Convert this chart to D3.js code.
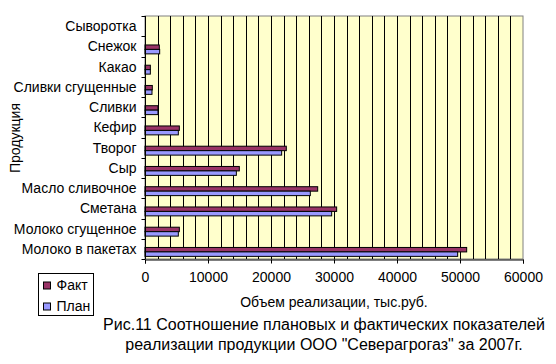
<!DOCTYPE html>
<html>
<head>
<meta charset="utf-8">
<script src="https://cdn.jsdelivr.net/npm/d3@7"></script>
<style>
  body { margin: 0; background: #fff; }
  svg text { font-family: "Liberation Sans", Arial, sans-serif; fill: #000; }
</style>
</head>
<body>
<div id="chart"></div>
<script>
// categories from top to bottom
var categories = ["Сыворотка", "Снежок", "Какао", "Сливки сгущенные", "Сливки", "Кефир",
    "Творог", "Сыр", "Масло сливочное", "Сметана", "Молоко сгущенное", "Молоко в пакетах"];
var fact = [0, 2270, 850, 1160, 2060, 5450, 22430, 14970, 27410, 30420, 5450, 51060];
var plan = [0, 2330, 850, 1110, 2060, 5290, 21690, 14500, 26240, 29630, 5290, 49630];
var xTicks = [0, 10000, 20000, 30000, 40000, 50000, 60000];
var seriesNames = ["Факт", "План"];
var seriesColors = ["#993366", "#9999FF"];

var width = 556, height = 364;
var margin = {left: 145, right: 33, top: 16, bottom: 105};

var svg = d3.select("#chart").append("svg")
    .attr("width", width)
    .attr("height", height);

var x = d3.scaleLinear().domain([0, 60000]).range([margin.left, width - margin.right]);
var y = d3.scaleBand().domain(categories).range([margin.top, height - margin.bottom]);

// plot area
svg.append("rect")
    .attr("x", x(0)).attr("y", y.range()[0])
    .attr("width", x(60000) - x(0)).attr("height", y.range()[1] - y.range()[0])
    .attr("fill", "#FFFFCC")
    .attr("stroke", "#808080");

// gridlines every 2000
svg.append("g")
    .selectAll("line")
    .data(d3.range(2000, 60000, 2000))
    .enter().append("line")
    .attr("x1", function (d) { return Math.round(x(d)) + 0.5; })
    .attr("x2", function (d) { return Math.round(x(d)) + 0.5; })
    .attr("y1", y.range()[0])
    .attr("y2", y.range()[1])
    .attr("stroke", "#000");

// bars (sit a bit low in each band, like the original)
var bh = y.bandwidth() * 0.22;
var off = y.bandwidth() * 0.43;
var rows = svg.append("g").selectAll("g")
    .data(categories)
    .enter().append("g");

rows.append("rect")
    .attr("x", x(0))
    .attr("y", function (d) { return y(d) + off; })
    .attr("width", function (d, i) { return x(fact[i]) - x(0); })
    .attr("height", bh)
    .attr("fill", seriesColors[0])
    .attr("stroke", "#000")
    .attr("stroke-width", function (d, i) { return fact[i] > 0 ? 1 : 0; });

rows.append("rect")
    .attr("x", x(0))
    .attr("y", function (d) { return y(d) + off + bh; })
    .attr("width", function (d, i) { return x(plan[i]) - x(0); })
    .attr("height", bh)
    .attr("fill", seriesColors[1])
    .attr("stroke", "#000")
    .attr("stroke-width", function (d, i) { return plan[i] > 0 ? 1 : 0; });

// x axis
var xAxis = svg.append("g")
    .attr("transform", "translate(0," + (y.range()[1] + 0.5) + ")")
    .call(d3.axisBottom(x).tickValues(xTicks).tickFormat(d3.format("d")).tickSize(4).tickPadding(9));
xAxis.select(".domain").attr("stroke", "#000");
xAxis.selectAll("text").style("font-size", "14px");

// y axis, ticks at category boundaries
var yAxis = svg.append("g")
    .attr("transform", "translate(" + (x(0) + 0.5) + ",0)");
yAxis.append("line")
    .attr("y1", y.range()[0]).attr("y2", y.range()[1])
    .attr("stroke", "#000");
yAxis.selectAll(".bt")
    .data(d3.range(categories.length + 1))
    .enter().append("line")
    .attr("x1", -4).attr("x2", 0)
    .attr("y1", function (i) { return Math.round(y.range()[0] + i * y.step()) + 0.5; })
    .attr("y2", function (i) { return Math.round(y.range()[0] + i * y.step()) + 0.5; })
    .attr("stroke", "#000");
yAxis.selectAll(".lbl")
    .data(categories)
    .enter().append("text")
    .attr("x", -9)
    .attr("y", function (d) { return y(d) + y.bandwidth() / 2; })
    .attr("dy", "0.35em")
    .attr("text-anchor", "end")
    .style("font-size", "14px")
    .text(function (d) { return d; });

// axis titles
svg.append("text")
    .attr("transform", "translate(20,138) rotate(-90)")
    .attr("text-anchor", "middle")
    .style("font-size", "14px")
    .text("Продукция");

svg.append("text")
    .attr("x", 334).attr("y", 307)
    .attr("text-anchor", "middle")
    .style("font-size", "14px")
    .text("Объем реализации, тыс.руб.");

// caption
svg.append("text")
    .attr("x", 324).attr("y", 330)
    .attr("text-anchor", "middle")
    .style("font-size", "16px")
    .text("Рис.11 Соотношение плановых и фактических показателей");
svg.append("text")
    .attr("x", 324).attr("y", 350)
    .attr("text-anchor", "middle")
    .style("font-size", "16px")
    .text("реализации продукции ООО \"Северагрогаз\" за 2007г.");

// legend
var legend = svg.append("g").attr("transform", "translate(38.5,273.5)");
legend.append("rect")
    .attr("width", 55).attr("height", 42)
    .attr("fill", "#fff").attr("stroke", "#000");
var li = legend.selectAll(".li")
    .data(seriesNames)
    .enter().append("g")
    .attr("transform", function (d, i) { return "translate(5," + (12 + i * 21) + ")"; });
li.append("rect")
    .attr("x", 0).attr("y", -3.5)
    .attr("width", 7).attr("height", 7)
    .attr("fill", function (d, i) { return seriesColors[i]; })
    .attr("stroke", "#000");
li.append("text")
    .attr("x", 13).attr("dy", "0.35em")
    .style("font-size", "14px")
    .text(function (d) { return d; });
</script>
</body>
</html>
